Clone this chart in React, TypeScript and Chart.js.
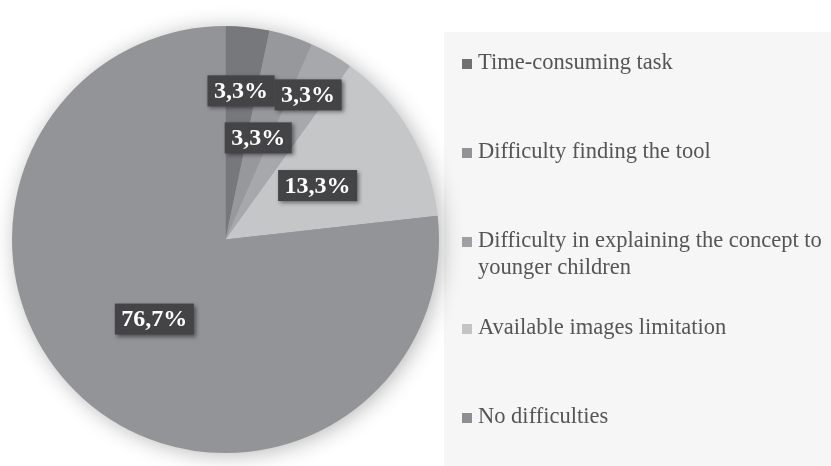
import React, { useEffect, useRef } from "react";
import { Chart, registerables } from "chart.js";

Chart.register(...registerables);

const categories: string[] = [
  "Time-consuming task",
  "Difficulty finding the tool",
  "Difficulty in explaining the concept to younger children",
  "Available images limitation",
  "No difficulties",
];
const legendLines: string[][] = [
  ["Time-consuming task"],
  ["Difficulty finding the tool"],
  ["Difficulty in explaining the concept to", "younger children"],
  ["Available images limitation"],
  ["No difficulties"],
];
const values: number[] = [3.3, 3.3, 3.3, 13.3, 76.7];
const valueLabels: string[] = ["3,3%", "3,3%", "3,3%", "13,3%", "76,7%"];

const sliceColors = ["#77787c", "#97989c", "#a7a8ab", "#c5c6c8", "#939498"];
const legendColors = ["#6f7074", "#929397", "#9fa0a3", "#c3c4c6", "#8e8f93"];
const labelRadius = [0.7, 0.5, 0.78, 0.5, 0.5];
const legendBaselines = [69, 158, 247, 334, 423];
const SERIF = '"Liberation Serif", "Times New Roman", serif';

const shadowPlugin = {
  id: "pieShadow",
  beforeDatasetsDraw(chart: any) {
    const meta = chart.getDatasetMeta(0);
    const arc = meta.data[0];
    if (!arc) return;
    const { x, y, outerRadius } = arc.getProps(["x", "y", "outerRadius"], true);
    const ctx = chart.ctx;
    ctx.save();
    ctx.shadowColor = "rgba(0,0,0,0.3)";
    ctx.shadowBlur = 22;
    ctx.shadowOffsetX = 3;
    ctx.shadowOffsetY = 2;
    ctx.fillStyle = "#939498";
    ctx.beginPath();
    ctx.arc(x, y, outerRadius - 1, 0, Math.PI * 2);
    ctx.fill();
    ctx.restore();
  },
};

const panelPlugin = {
  id: "legendPanel",
  beforeDraw(chart: any) {
    const ctx = chart.ctx;
    ctx.save();
    ctx.fillStyle = "#ffffff";
    ctx.fillRect(0, 0, chart.width, chart.height);
    ctx.fillStyle = "#f6f6f6";
    ctx.fillRect(444, 32, chart.width - 444, chart.height - 32);
    ctx.restore();
  },
  afterDraw(chart: any) {
    const ctx = chart.ctx;
    ctx.save();
    ctx.font = `22.5px ${SERIF}`;
    ctx.textBaseline = "alphabetic";
    ctx.textAlign = "left";
    legendLines.forEach((lines, i) => {
      const base = legendBaselines[i];
      ctx.fillStyle = legendColors[i];
      ctx.fillRect(462, base - 10, 10, 10);
      ctx.fillStyle = "#555555";
      lines.forEach((line, j) => {
        ctx.fillText(line, 478, base + j * 27);
      });
    });
    ctx.restore();
  },
};

const labelPlugin = {
  id: "boxLabels",
  afterDatasetsDraw(chart: any) {
    const meta = chart.getDatasetMeta(0);
    const ctx = chart.ctx;
    ctx.save();
    ctx.font = `bold 24px ${SERIF}`;
    ctx.textAlign = "center";
    ctx.textBaseline = "middle";
    meta.data.forEach((arc: any, i: number) => {
      const p = arc.getProps(["x", "y", "startAngle", "endAngle", "outerRadius"], true);
      const mid = (p.startAngle + p.endAngle) / 2;
      const r = p.outerRadius * labelRadius[i];
      const cx = p.x + Math.cos(mid) * r;
      const cy = p.y + Math.sin(mid) * r;
      const text = valueLabels[i];
      const tw = ctx.measureText(text).width;
      const w = tw + 13;
      const h = 31;
      ctx.save();
      ctx.shadowColor = "rgba(0,0,0,0.45)";
      ctx.shadowBlur = 4;
      ctx.shadowOffsetX = 2;
      ctx.shadowOffsetY = 2;
      ctx.fillStyle = "#444446";
      ctx.fillRect(cx - w / 2, cy - h / 2, w, h);
      ctx.restore();
      ctx.fillStyle = "#ffffff";
      ctx.fillText(text, cx, cy + 1);
    });
    ctx.restore();
  },
};

export default function App() {
  const ref = useRef<HTMLCanvasElement | null>(null);
  useEffect(() => {
    if (!ref.current) return;
    const chart = new Chart(ref.current, {
      type: "pie",
      data: {
        labels: categories,
        datasets: [
          {
            data: values,
            backgroundColor: sliceColors,
            borderWidth: 0,
          },
        ],
      },
      options: {
        animation: false,
        responsive: false,
        layout: { padding: { left: 12, top: 26, right: 392, bottom: 13 } },
        plugins: {
          legend: { display: false },
          tooltip: { enabled: false },
        },
      },
      plugins: [panelPlugin, shadowPlugin, labelPlugin],
    });
    return () => chart.destroy();
  }, []);
  return (
    <div style={{ position: "absolute", left: 0, top: 0, width: 831, height: 466 }}>
      <canvas ref={ref} width={831} height={466} />
    </div>
  );
}
